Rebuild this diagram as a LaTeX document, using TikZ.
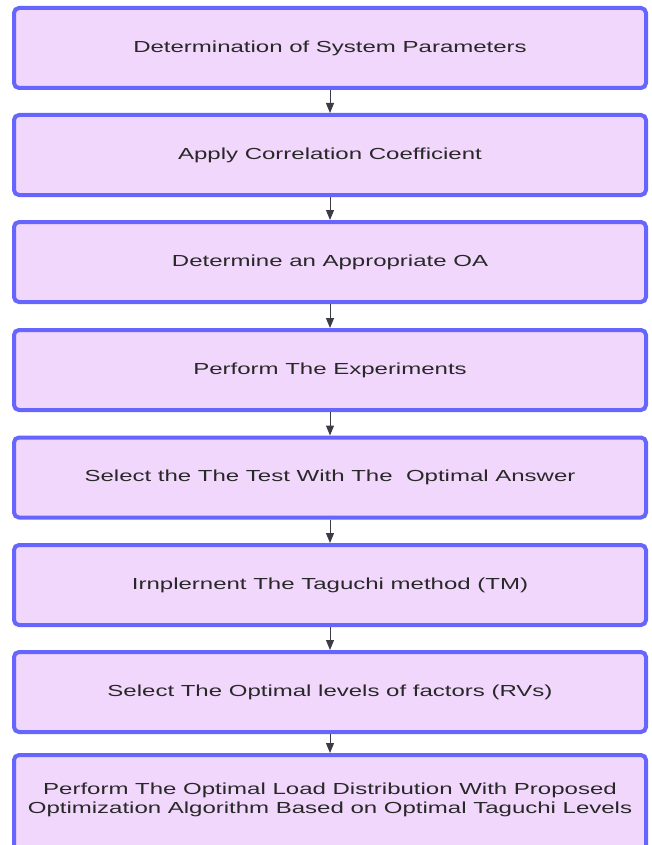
\documentclass[tikz,border=0pt]{standalone}
\usepackage{fontspec}
\setmainfont{Liberation Sans}[FakeStretch=1.5]
\usetikzlibrary{arrows.meta}
\definecolor{boxfill}{RGB}{242,215,252}
\definecolor{boxline}{RGB}{102,102,255}
\definecolor{txt}{RGB}{40,40,40}
\definecolor{arr}{RGB}{60,60,70}
\begin{document}
\begin{tikzpicture}[x=1pt,y=-1pt,
  stepbox/.style={draw=boxline, fill=boxfill, line width=4pt, rounded corners=5pt,
    minimum width=632pt, minimum height=80pt, text=txt,
    font=\fontsize{16}{19}\selectfont, align=center, inner sep=0pt},
  flow/.style={draw=arr, line width=1pt, -{Triangle[width=8pt,length=10pt]}}]
\useasboundingbox (0,0) rectangle (652,845);
\node[stepbox] (b1) at (330,48) {Determination of System Parameters};
\node[stepbox] (b2) at (330,155) {Apply Correlation Coefficient};
\node[stepbox] (b3) at (330,262) {Determine an Appropriate OA};
\node[stepbox] (b4) at (330,370) {Perform The Experiments};
\node[stepbox] (b5) at (330,477.5) {Select the The Test With The\ \ Optimal Answer};
\node[stepbox] (b6) at (330,585) {Irnplernent The Taguchi method (TM)};
\node[stepbox] (b7) at (330,692) {Select The Optimal levels of factors (RVs)};
\node[stepbox, minimum height=100pt] (b8) at (330,805) {Perform The Optimal Load Distribution With Proposed\\Optimization Algorithm Based on Optimal Taguchi Levels\\[-6pt]\mbox{}};
\draw[flow] (b1) -- (b2);
\draw[flow] (b2) -- (b3);
\draw[flow] (b3) -- (b4);
\draw[flow] (b4) -- (b5);
\draw[flow] (b5) -- (b6);
\draw[flow] (b6) -- (b7);
\draw[flow] (b7) -- (b8);
\end{tikzpicture}
\end{document}
